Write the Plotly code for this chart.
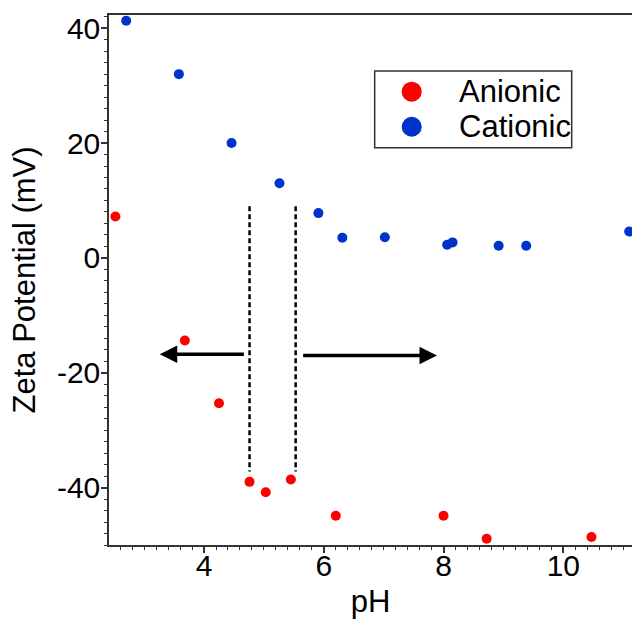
import plotly.graph_objects as go

# ---- data ----
anionic_pH = [2.52, 3.68, 4.25, 4.76, 5.03, 5.45, 6.20, 8.00, 8.72, 10.47]
anionic_zeta = [7.2, -14.4, -25.3, -39.0, -40.8, -38.6, -44.9, -44.9, -48.9, -48.6]

cationic_pH = [2.70, 3.58, 4.46, 5.26, 5.91, 6.31, 7.02, 8.06, 8.15, 8.92, 9.38, 11.10]
cationic_zeta = [41.3, 32.0, 20.0, 13.0, 7.8, 3.5, 3.6, 2.3, 2.7, 2.1, 2.1, 4.6]

series_names = ["Anionic", "Cationic"]
series_colors = ["#FF0000", "#0033CC"]

x_tick_vals = [4, 6, 8, 10]
x_tick_text = ["4", "6", "8", "10"]
y_tick_vals = [-40, -20, 0, 20, 40]
y_tick_text = ["-40", "-20", "0", "20", "40"]

# dashed boundary lines (pH, zeta top, zeta bottom)
boundary_pH = [4.76, 5.53]
boundary_top = [9.0, 9.0]
boundary_bottom = [-37.2, -37.2]

# arrows: tail pH, tip pH, zeta level
arrow_tail_pH = [4.69, 5.63]
arrow_tip_pH = [3.26, 7.89]
arrow_zeta = [-16.8, -17.0]

FONT = "Liberation Sans, Arial, sans-serif"
LINE = "#333333"

fig = go.Figure()
for name, color, xs, ys in zip(series_names, series_colors,
                               [anionic_pH, cationic_pH], [anionic_zeta, cationic_zeta]):
    fig.add_trace(go.Scatter(x=xs, y=ys, mode="markers", name=name, showlegend=False,
                             marker=dict(color=color, size=10)))

for px, yt, yb in zip(boundary_pH, boundary_top, boundary_bottom):
    fig.add_shape(type="line", xref="x", yref="y", x0=px, x1=px, y0=yt, y1=yb,
                  line=dict(color="black", width=2.5, dash="5px,3px"))

for tail, tip, zy in zip(arrow_tail_pH, arrow_tip_pH, arrow_zeta):
    fig.add_annotation(x=tip, y=zy, ax=tail, ay=zy, xref="x", yref="y", axref="x", ayref="y",
                       text="", showarrow=True, arrowhead=2, arrowsize=1, arrowwidth=3.5,
                       arrowcolor="black", standoff=0, startstandoff=0)

# ---- legend box (drawn in paper coordinates) ----
leg_x0, leg_x1, leg_y0, leg_y1 = 0.508, 0.8847, 0.7496, 0.8943
leg_row_y = [0.8553, 0.7892]
leg_sym_x = 0.5788
leg_text_x = 0.6648
fig.add_shape(type="rect", xref="paper", yref="paper", x0=leg_x0, x1=leg_x1, y0=leg_y0, y1=leg_y1,
              line=dict(color=LINE, width=1.5), fillcolor="white", layer="above")
for name, color, ry in zip(series_names, series_colors, leg_row_y):
    fig.add_shape(type="circle", xref="paper", yref="paper", xsizemode="pixel", ysizemode="pixel",
                  xanchor=leg_sym_x, yanchor=ry, x0=-10, x1=10, y0=-10, y1=10,
                  fillcolor=color, line=dict(width=0), layer="above")
    fig.add_annotation(x=leg_text_x, y=ry, xref="paper", yref="paper", text=name, showarrow=False,
                       xanchor="left", yanchor="middle",
                       font=dict(family=FONT, size=31, color="black"))

fig.update_layout(
    width=632, height=619,
    margin=dict(l=109, r=0, t=15, b=74),
    paper_bgcolor="white", plot_bgcolor="white",
    font=dict(family=FONT, color="black", size=30),
    showlegend=False,
    xaxis=dict(range=[2.413, 11.147], tickmode="array", tickvals=x_tick_vals, ticktext=x_tick_text,
               ticks="outside", ticklen=6, tickwidth=1.5, tickcolor=LINE, ticklabelstandoff=-13,
               showline=True, linecolor=LINE, linewidth=1.5, mirror=True,
               showgrid=False, zeroline=False, automargin=False,
               tickfont=dict(family=FONT, size=30, color="black"),
               minor=dict(tickmode="linear", tick0=0, dtick=0.2, ticks="outside", ticklen=3,
                          tickwidth=1, tickcolor=LINE, showgrid=False),
               title=dict(text="pH", font=dict(family=FONT, size=31, color="black"), standoff=15)),
    yaxis=dict(range=[-50, 42.3], tickmode="array", tickvals=y_tick_vals, ticktext=y_tick_text,
               ticks="outside", ticklen=6, tickwidth=1.5, tickcolor=LINE, ticklabelstandoff=-5,
               showline=True, linecolor=LINE, linewidth=1.5, mirror=False,
               showgrid=False, zeroline=False, automargin=False,
               tickfont=dict(family=FONT, size=30, color="black"),
               minor=dict(tickmode="linear", tick0=0, dtick=2, ticks="outside", ticklen=3,
                          tickwidth=1, tickcolor=LINE, showgrid=False),
               title=dict(text="Zeta Potential (mV)", font=dict(family=FONT, size=31, color="black"),
                          standoff=12)),
)

fig.write_html("out.html")
